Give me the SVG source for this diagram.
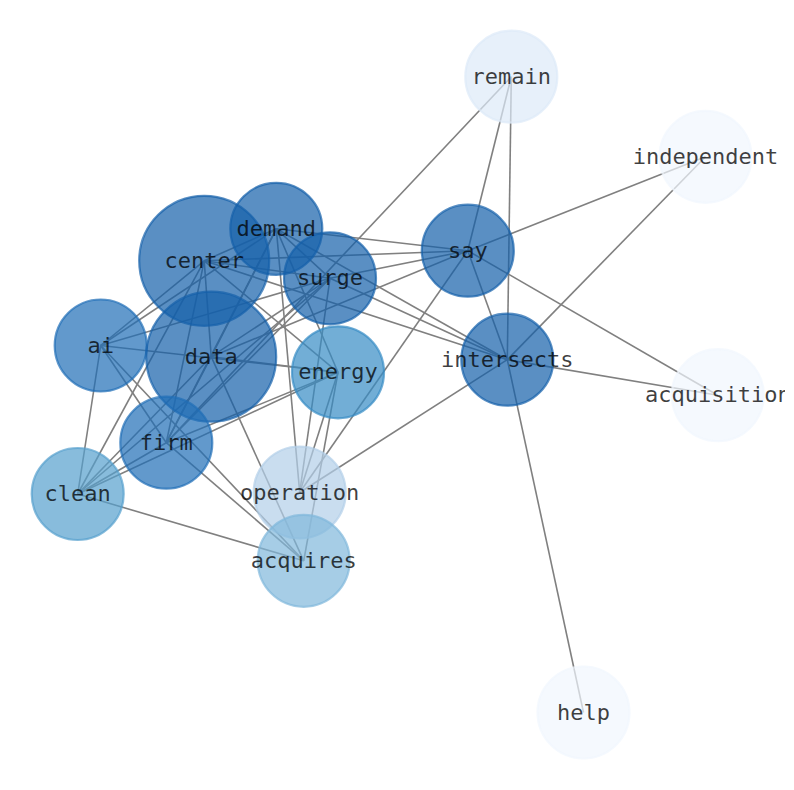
<svg xmlns="http://www.w3.org/2000/svg" width="794" height="790" viewBox="0 0 794 790">
<defs>
<style>
.e{stroke:#808080;stroke-width:1.6;fill:none}
.n{stroke-width:2.2}
.t{font-family:"DejaVu Sans Mono","Liberation Mono",monospace;font-size:22px;fill:#000;fill-opacity:0.75;text-anchor:middle}
.c0{fill:#145fa9;fill-opacity:0.7;stroke:#145fa9;stroke-opacity:0.7}
.c1{fill:#206db6;fill-opacity:0.7;stroke:#206db6;stroke-opacity:0.7}
.c2{fill:#368bc4;fill-opacity:0.7;stroke:#368bc4;stroke-opacity:0.7}
.c3{fill:#559fcd;fill-opacity:0.7;stroke:#559fcd;stroke-opacity:0.7}
.c4{fill:#80b8db;fill-opacity:0.7;stroke:#80b8db;stroke-opacity:0.7}
.c5{fill:#b2cee8;fill-opacity:0.7;stroke:#b2cee8;stroke-opacity:0.7}
.c6{fill:#ddeaf8;fill-opacity:0.7;stroke:#ddeaf8;stroke-opacity:0.7}
.c7{fill:#f1f7fe;fill-opacity:0.7;stroke:#f1f7fe;stroke-opacity:0.7}
</style>
<clipPath id="clip"><rect x="0" y="0" width="785" height="790"/></clipPath>
</defs>
<rect width="794" height="790" fill="#ffffff"/>
<g clip-path="url(#clip)">
<g id="edges">
<line class="e" x1="511.3" y1="76.7" x2="467.8" y2="250.7"/>
<line class="e" x1="511.3" y1="76.7" x2="507.3" y2="359.7"/>
<line class="e" x1="511.3" y1="76.7" x2="166.3" y2="442.7"/>
<line class="e" x1="705.5" y1="156.8" x2="467.8" y2="250.7"/>
<line class="e" x1="705.5" y1="156.8" x2="507.3" y2="359.7"/>
<line class="e" x1="717.8" y1="395.2" x2="467.8" y2="250.7"/>
<line class="e" x1="717.8" y1="395.2" x2="507.3" y2="359.7"/>
<line class="e" x1="583.5" y1="712.5" x2="507.3" y2="359.7"/>
<line class="e" x1="467.8" y1="250.7" x2="507.3" y2="359.7"/>
<line class="e" x1="467.8" y1="250.7" x2="276.3" y2="228.8"/>
<line class="e" x1="467.8" y1="250.7" x2="204.2" y2="260.8"/>
<line class="e" x1="467.8" y1="250.7" x2="330" y2="278.3"/>
<line class="e" x1="467.8" y1="250.7" x2="211.2" y2="356.7"/>
<line class="e" x1="467.8" y1="250.7" x2="299.7" y2="492.5"/>
<line class="e" x1="507.3" y1="359.7" x2="276.3" y2="228.8"/>
<line class="e" x1="507.3" y1="359.7" x2="330" y2="278.3"/>
<line class="e" x1="507.3" y1="359.7" x2="204.2" y2="260.8"/>
<line class="e" x1="507.3" y1="359.7" x2="299.7" y2="492.5"/>
<line class="e" x1="204.2" y1="260.8" x2="276.3" y2="228.8"/>
<line class="e" x1="204.2" y1="260.8" x2="330" y2="278.3"/>
<line class="e" x1="204.2" y1="260.8" x2="211.2" y2="356.7"/>
<line class="e" x1="204.2" y1="260.8" x2="100.7" y2="345.5"/>
<line class="e" x1="204.2" y1="260.8" x2="166.3" y2="442.7"/>
<line class="e" x1="204.2" y1="260.8" x2="77.7" y2="494"/>
<line class="e" x1="204.2" y1="260.8" x2="338" y2="372.3"/>
<line class="e" x1="276.3" y1="228.8" x2="330" y2="278.3"/>
<line class="e" x1="276.3" y1="228.8" x2="100.7" y2="345.5"/>
<line class="e" x1="276.3" y1="228.8" x2="211.2" y2="356.7"/>
<line class="e" x1="276.3" y1="228.8" x2="166.3" y2="442.7"/>
<line class="e" x1="276.3" y1="228.8" x2="299.7" y2="492.5"/>
<line class="e" x1="276.3" y1="228.8" x2="338" y2="372.3"/>
<line class="e" x1="330" y1="278.3" x2="100.7" y2="345.5"/>
<line class="e" x1="330" y1="278.3" x2="211.2" y2="356.7"/>
<line class="e" x1="330" y1="278.3" x2="166.3" y2="442.7"/>
<line class="e" x1="330" y1="278.3" x2="299.7" y2="492.5"/>
<line class="e" x1="330" y1="278.3" x2="77.7" y2="494"/>
<line class="e" x1="100.7" y1="345.5" x2="338" y2="372.3"/>
<line class="e" x1="100.7" y1="345.5" x2="77.7" y2="494"/>
<line class="e" x1="100.7" y1="345.5" x2="303.7" y2="560.8"/>
<line class="e" x1="100.7" y1="345.5" x2="166.3" y2="442.7"/>
<line class="e" x1="211.2" y1="356.7" x2="338" y2="372.3"/>
<line class="e" x1="211.2" y1="356.7" x2="166.3" y2="442.7"/>
<line class="e" x1="211.2" y1="356.7" x2="77.7" y2="494"/>
<line class="e" x1="211.2" y1="356.7" x2="303.7" y2="560.8"/>
<line class="e" x1="166.3" y1="442.7" x2="338" y2="372.3"/>
<line class="e" x1="166.3" y1="442.7" x2="77.7" y2="494"/>
<line class="e" x1="166.3" y1="442.7" x2="303.7" y2="560.8"/>
<line class="e" x1="77.7" y1="494" x2="338" y2="372.3"/>
<line class="e" x1="77.7" y1="494" x2="303.7" y2="560.8"/>
<line class="e" x1="338" y1="372.3" x2="299.7" y2="492.5"/>
<line class="e" x1="338" y1="372.3" x2="303.7" y2="560.8"/>
</g>
<g id="nodes">
<g id="node-remain"><circle class="n c6" cx="511.3" cy="76.7" r="46"/></g>
<g id="node-independent"><circle class="n c7" cx="705.5" cy="156.8" r="46"/></g>
<g id="node-acquisition"><circle class="n c7" cx="717.8" cy="395.2" r="46"/></g>
<g id="node-help"><circle class="n c7" cx="583.5" cy="712.5" r="46"/></g>
<g id="node-operation"><circle class="n c5" cx="299.7" cy="492.5" r="46"/></g>
<g id="node-acquires"><circle class="n c4" cx="303.7" cy="560.8" r="46"/></g>
<g id="node-clean"><circle class="n c3" cx="77.7" cy="494" r="46"/></g>
<g id="node-energy"><circle class="n c2" cx="338" cy="372.3" r="46"/></g>
<g id="node-ai"><circle class="n c1" cx="100.7" cy="345.5" r="46"/></g>
<g id="node-say"><circle class="n c0" cx="467.8" cy="250.7" r="46"/></g>
<g id="node-intersects"><circle class="n c0" cx="507.3" cy="359.7" r="46"/></g>
<g id="node-center"><circle class="n c0" cx="204.2" cy="260.8" r="65"/></g>
<g id="node-data"><circle class="n c0" cx="211.2" cy="356.7" r="65"/></g>
<g id="node-firm"><circle class="n c1" cx="166.3" cy="442.7" r="46"/></g>
<g id="node-demand"><circle class="n c0" cx="276.3" cy="228.8" r="46"/></g>
<g id="node-surge"><circle class="n c0" cx="330" cy="278.3" r="46"/></g>
</g>
<g id="labels">
<text id="label-remain" class="t" x="511.3" y="83.7">remain</text>
<text id="label-independent" class="t" x="705.5" y="163.8">independent</text>
<text id="label-acquisition" class="t" x="717.8" y="402.2">acquisition</text>
<text id="label-help" class="t" x="583.5" y="719.5">help</text>
<text id="label-operation" class="t" x="299.7" y="499.5">operation</text>
<text id="label-acquires" class="t" x="303.7" y="567.8">acquires</text>
<text id="label-clean" class="t" x="77.7" y="501">clean</text>
<text id="label-energy" class="t" x="338" y="379.3">energy</text>
<text id="label-ai" class="t" x="100.7" y="352.5">ai</text>
<text id="label-say" class="t" x="467.8" y="257.7">say</text>
<text id="label-intersects" class="t" x="507.3" y="366.7">intersects</text>
<text id="label-center" class="t" x="204.2" y="267.8">center</text>
<text id="label-data" class="t" x="211.2" y="363.7">data</text>
<text id="label-firm" class="t" x="166.3" y="449.7">firm</text>
<text id="label-demand" class="t" x="276.3" y="235.8">demand</text>
<text id="label-surge" class="t" x="330" y="285.3">surge</text>
</g>
</g>
</svg>
